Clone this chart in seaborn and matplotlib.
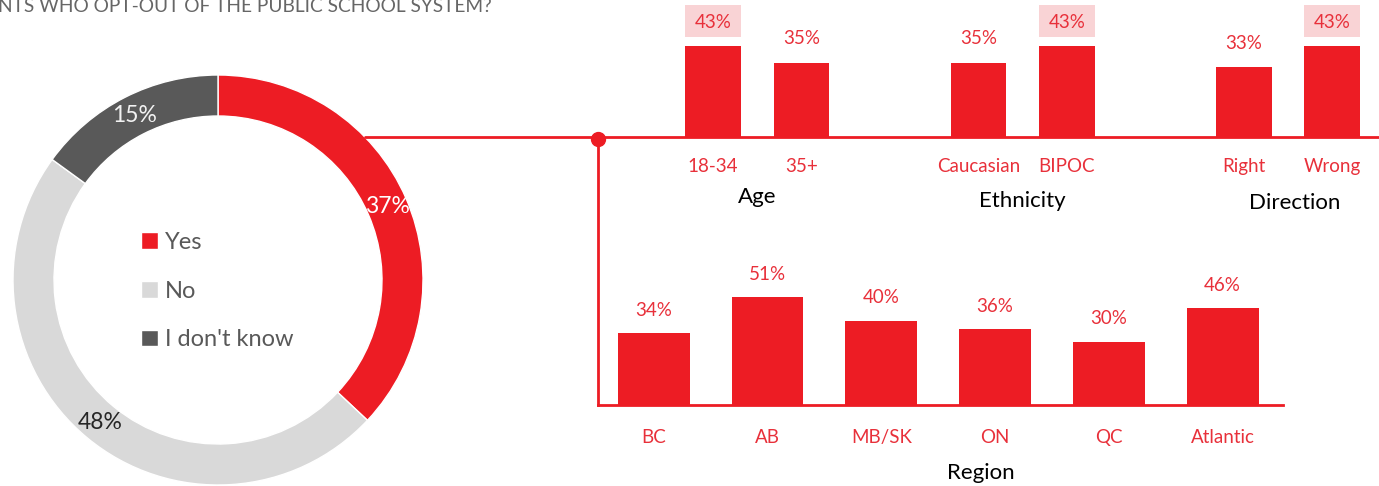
import matplotlib
matplotlib.use("Agg")
import matplotlib.pyplot as plt
from matplotlib.patches import Rectangle
from matplotlib.lines import Line2D
import seaborn as sns
import pandas as pd

# ---------------- data ----------------
donut_labels = ["Yes", "No", "I don't know"]
donut_values = [37, 48, 15]

top_labels = ["18-34", "35+", "Caucasian", "BIPOC", "Right", "Wrong"]
top_values = [43, 35, 35, 43, 33, 43]
top_groups = ["Age", "Age", "Ethnicity", "Ethnicity", "Direction", "Direction"]

region_labels = ["BC", "AB", "MB/SK", "ON", "QC", "Atlantic"]
region_values = [34, 51, 40, 36, 30, 46]

title_text = "NTS WHO OPT-OUT OF THE PUBLIC SCHOOL SYSTEM?"

# ---------------- style ----------------
RED = "#ED1C24"
TXT_RED = "#E8303A"
LIGHT = "#D9D9D9"
DARK = "#595959"
PINK = "#F9D3D5"

sns.set_theme(style="white")
plt.rcParams["font.family"] = ["Lato", "DejaVu Sans"]

W, H = 1379, 486
fig = plt.figure(figsize=(W / 100, H / 100), dpi=100)


def px(x0, y0, x1, y1):
    return [x0 / W, 1 - y1 / H, (x1 - x0) / W, (y1 - y0) / H]


# ---------------- donut ----------------
axd = fig.add_axes(px(13, 75, 423, 485))
wedges, texts, autotexts = axd.pie(
    donut_values, colors=[RED, LIGHT, DARK], startangle=90, counterclock=False,
    radius=1, wedgeprops=dict(width=0.2, edgecolor="white", linewidth=1),
    autopct=lambda p: f"{p:.0f}%", pctdistance=0.9,
    textprops=dict(fontsize=16.5),
)
for t, c in zip(autotexts, ["white", "#262626", "#F2F2F2"]):
    t.set_color(c)
axd.set_xlim(-1, 1)
axd.set_ylim(-1, 1)
axd.set_aspect("equal")
axd.axis("off")

leg = fig.legend(wedges, donut_labels, loc="center left",
                 bbox_to_anchor=(141 / W, 1 - 291 / H), frameon=False,
                 fontsize=17, handlelength=0.7, handleheight=0.7,
                 handletextpad=0.3, labelspacing=1.18, borderpad=0,
                 borderaxespad=0)
for t in leg.get_texts():
    t.set_color(DARK)

# ---------------- top bars ----------------
group_order = list(dict.fromkeys(top_groups))
positions = [i + group_order.index(g) for i, g in enumerate(top_groups)]
df_top = pd.DataFrame({"pos": positions, "value": top_values,
                       "label": top_labels, "group": top_groups})
BW = 0.63

axt = fig.add_axes(px(598, 0, 1380, 137))
axt.set_zorder(3)
axt.patch.set_alpha(0)
sns.barplot(data=df_top, x="pos", y="value", native_scale=True, color=RED,
            width=BW, saturation=1, ax=axt, edgecolor="none")
axt.set_xlim(-1.3, 7.54)
axt.set_ylim(0, 137 / 2.11)
axt.set_xticks(positions)
axt.set_xticklabels(top_labels, color=TXT_RED, fontsize=13.5)
axt.tick_params(axis="x", length=0, pad=15)
axt.set_yticks([])
axt.set_xlabel("")
axt.set_ylabel("")
for s in ["top", "right", "left"]:
    axt.spines[s].set_visible(False)
axt.spines["bottom"].set_color(RED)
axt.spines["bottom"].set_linewidth(2)

group_max = df_top.groupby("group")["value"].transform("max")
for p, v, m in zip(positions, top_values, group_max):
    if v == m:
        axt.add_patch(Rectangle((p - BW / 2, v + 4.2), BW, 15.5,
                                facecolor=PINK, edgecolor="none", zorder=0,
                                clip_on=False))
    axt.text(p, v + 11.5, f"{v}%", ha="center", va="center", color=TXT_RED,
             fontsize=13.5, clip_on=False)

gy = {"Age": -0.435, "Ethnicity": -0.47, "Direction": -0.485}
for g in group_order:
    xs = [p for p, gg in zip(positions, top_groups) if gg == g]
    axt.text(sum(xs) / len(xs) + (0.08 if g == "Direction" else 0), gy[g], g,
             transform=axt.get_xaxis_transform(), ha="center", va="center",
             fontsize=16, color="black")

# ---------------- region bars ----------------
df_reg = pd.DataFrame({"region": region_labels, "value": region_values})
axb = fig.add_axes(px(598, 141, 1283, 405))
axb.patch.set_alpha(0)
sns.barplot(data=df_reg, x="region", y="value", color=RED, width=BW,
            saturation=1, ax=axb, edgecolor="none")
axb.set_xlim(-0.49, 5.53)
axb.set_ylim(0, 264 / 2.11)
axb.tick_params(axis="x", length=0, pad=17, labelsize=13.5, labelcolor=TXT_RED)
axb.set_yticks([])
axb.set_xlabel("")
axb.set_ylabel("")
for s in ["top", "right"]:
    axb.spines[s].set_visible(False)
for s in ["left", "bottom"]:
    axb.spines[s].set_color(RED)
    axb.spines[s].set_linewidth(2)
for i, v in enumerate(region_values):
    axb.text(i, v + 10.8, f"{v}%", ha="center", va="center", color=TXT_RED,
             fontsize=13.5)
axb.text(0.559, -0.258, "Region", transform=axb.transAxes, ha="center",
         va="center", fontsize=16, color="black")

# ---------------- connector ----------------
fig.add_artist(Line2D([365 / W, 598 / W], [1 - 137 / H, 1 - 137 / H],
                      transform=fig.transFigure, color=RED, linewidth=2))
fig.add_artist(Line2D([598 / W], [1 - 139 / H], transform=fig.transFigure,
                      marker="o", markersize=10, color=RED))

# ---------------- title ----------------
fig.text(-2 / W, 1 - 6 / H, title_text, ha="left", va="center", fontsize=13.8,
         color="#666666")

fig.savefig("out.png", dpi=100)
